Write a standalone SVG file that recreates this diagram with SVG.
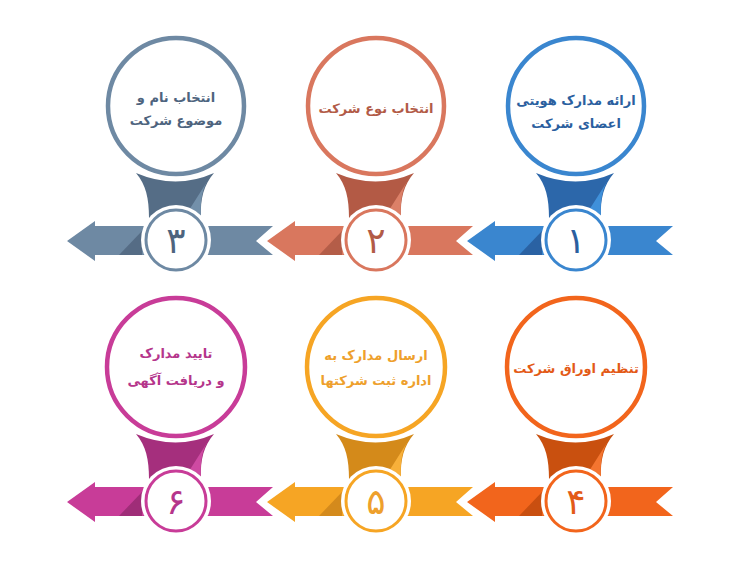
<svg xmlns="http://www.w3.org/2000/svg" width="750" height="563" viewBox="0 0 750 563">
<defs>
<style>
.big{fill:#fff;stroke-width:4.5}
.ring{fill:#fff;stroke-width:3}
.halo{fill:#fff}
.lbl{font-family:"DejaVu Sans",sans-serif;font-weight:bold;font-size:13px;text-anchor:middle}
.num{font-family:"DejaVu Sans",sans-serif;font-weight:normal;font-size:36px;text-anchor:middle}
.blue .big,.blue .ring{stroke:#3a86cf}.blue .band{fill:#3a86cf}.blue .neck{fill:#2c67aa}.blue .lite{fill:#3f90da}.blue .dark{fill:#2a62a3}.blue text{fill:#2b5f9f}
.red .big,.red .ring{stroke:#d9775e}.red .band{fill:#d9775e}.red .neck{fill:#b35a45}.red .lite{fill:#dc8068}.red .dark{fill:#b45d48}.red text{fill:#b25b47}
.grey .big,.grey .ring{stroke:#6e89a3}.grey .band{fill:#6e89a3}.grey .neck{fill:#556d86}.grey .lite{fill:#7390aa}.grey .dark{fill:#556c85}.grey text{fill:#4e647e}
.orng .big,.orng .ring{stroke:#f2651c}.orng .band{fill:#f2651c}.orng .neck{fill:#c9500f}.orng .lite{fill:#f47530}.orng .dark{fill:#c94f10}.orng text{fill:#e35a17}
.yel .big,.yel .ring{stroke:#f6a524}.yel .band{fill:#f6a524}.yel .neck{fill:#d48a1a}.yel .lite{fill:#f8b03a}.yel .dark{fill:#d48a1c}.yel text{fill:#eea02c}
.mag .big,.mag .ring{stroke:#c83c98}.mag .band{fill:#c83c98}.mag .neck{fill:#a52f7d}.mag .lite{fill:#ce4aa2}.mag .dark{fill:#9f2d78}.mag text{fill:#b5358b}
</style>
<path id="neckShape" d="M -40,-67 Q 0,-50 38,-67 C 28,-55 24,-42 25,-22 L -27,-22 C -27,-42 -30,-55 -40,-67 Z"/>
<path id="liteShape" d="M 34,-63 C 26,-52 24,-40 25,-22 L 8,-22 Z"/>
<path id="tailShape" d="M 28,-14 L 97,-14 L 80,1 L 97,15 L 28,15 Z"/>
<path id="headShape" d="M -28,-14 L -81,-14 L -81,-19 L -109,1 L -81,21 L -81,15 L -28,15 Z"/>
<path id="darkShape" d="M -57,15 L -34,15 L -34,-9 Z"/>
</defs>
<rect width="750" height="563" fill="#fff"/>
<g id="connectors">
<g class="blue" transform="translate(576,240)"><use href="#tailShape" class="band"/><use href="#headShape" class="band"/><use href="#darkShape" class="dark"/></g>
<g class="red" transform="translate(376,240)"><use href="#tailShape" class="band"/><use href="#headShape" class="band"/><use href="#darkShape" class="dark"/></g>
<g class="grey" transform="translate(176,240)"><use href="#tailShape" class="band"/><use href="#headShape" class="band"/><use href="#darkShape" class="dark"/></g>
<g class="orng" transform="translate(576,501)"><use href="#tailShape" class="band"/><use href="#headShape" class="band"/><use href="#darkShape" class="dark"/></g>
<g class="yel" transform="translate(376,501)"><use href="#tailShape" class="band"/><use href="#headShape" class="band"/><use href="#darkShape" class="dark"/></g>
<g class="mag" transform="translate(176,501)"><use href="#tailShape" class="band"/><use href="#headShape" class="band"/><use href="#darkShape" class="dark"/></g>
</g>
<g id="node1" class="blue" transform="translate(576,240)">
<use href="#neckShape" class="neck"/><use href="#liteShape" class="lite"/>
<circle cy="-134" r="68" class="big"/>
<circle r="35" class="halo"/><circle r="30" class="ring"/>
<text class="num" y="13">۱</text>
<text class="lbl" y="-135">ارائه مدارک هویتی</text>
<text class="lbl" y="-112">اعضای شرکت</text>
</g>
<g id="node2" class="red" transform="translate(376,240)">
<use href="#neckShape" class="neck"/><use href="#liteShape" class="lite"/>
<circle cy="-134" r="68" class="big"/>
<circle r="35" class="halo"/><circle r="30" class="ring"/>
<text class="num" y="13">۲</text>
<text class="lbl" y="-127">انتخاب نوع شرکت</text>
</g>
<g id="node3" class="grey" transform="translate(176,240)">
<use href="#neckShape" class="neck"/><use href="#liteShape" class="lite"/>
<circle cy="-134" r="68" class="big"/>
<circle r="35" class="halo"/><circle r="30" class="ring"/>
<text class="num" y="13">۳</text>
<text class="lbl" y="-138">انتخاب نام و</text>
<text class="lbl" y="-115">موضوع شرکت</text>
</g>
<g id="node4" class="orng" transform="translate(576,501)">
<use href="#neckShape" class="neck"/><use href="#liteShape" class="lite"/>
<circle cy="-134" r="69" class="big"/>
<circle r="35" class="halo"/><circle r="30" class="ring"/>
<text class="num" y="13">۴</text>
<text class="lbl" y="-128">تنظیم اوراق شرکت</text>
</g>
<g id="node5" class="yel" transform="translate(376,501)">
<use href="#neckShape" class="neck"/><use href="#liteShape" class="lite"/>
<circle cy="-134" r="69" class="big"/>
<circle r="35" class="halo"/><circle r="30" class="ring"/>
<text class="num" y="13">۵</text>
<text class="lbl" y="-141">ارسال مدارک به</text>
<text class="lbl" y="-116">اداره ثبت شرکتها</text>
</g>
<g id="node6" class="mag" transform="translate(176,501)">
<use href="#neckShape" class="neck"/><use href="#liteShape" class="lite"/>
<circle cy="-134" r="69" class="big"/>
<circle r="35" class="halo"/><circle r="30" class="ring"/>
<text class="num" y="13">۶</text>
<text class="lbl" y="-143">تایید مدارک</text>
<text class="lbl" y="-116">و دریافت آگهی</text>
</g>
</svg>
